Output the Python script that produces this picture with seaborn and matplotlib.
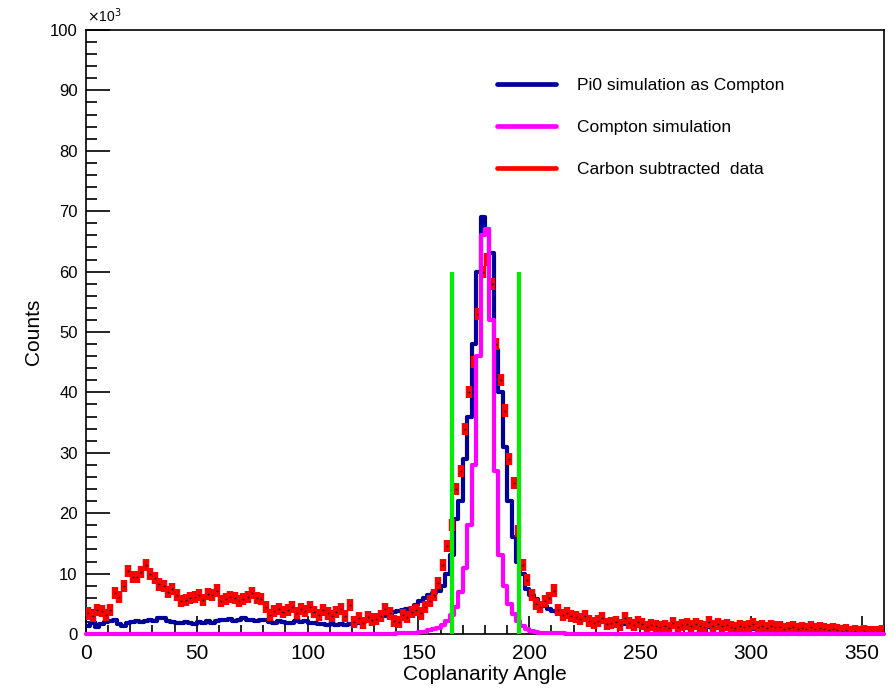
import numpy as np
import pandas as pd
import matplotlib
matplotlib.use("Agg")
import matplotlib.pyplot as plt
import seaborn as sns
from matplotlib.ticker import MultipleLocator
from matplotlib.lines import Line2D

# 2 degree bins, counts in thousands
bin_edges = list(range(0, 362, 2))
bin_centers = [e + 1 for e in bin_edges[:-1]]

pi0_sim = [
    1.4, 1.8, 1.2, 1.6, 2.0, 2.2, 2.3, 1.6, 1.4, 1.8,
    2.0, 2.1, 2.0, 2.2, 2.3, 2.2, 2.6, 2.7, 2.2, 2.0,
    1.9, 1.8, 2.0, 1.9, 1.7, 2.0, 1.9, 2.1, 1.9, 2.2,
    2.4, 2.3, 2.5, 2.2, 2.4, 2.6, 2.3, 2.4, 2.2, 2.4,
    2.3, 2.0, 1.9, 2.2, 2.0, 1.8, 1.9, 2.2, 2.0, 2.1,
    1.8, 1.9, 1.7, 1.6, 1.5, 1.6, 1.5, 1.6, 1.5, 1.6,
    1.7, 1.8, 2.0, 2.2, 2.4, 2.6, 2.9, 3.0, 3.2, 3.6,
    3.8, 3.9, 4.1, 4.3, 4.8, 5.5, 6.0, 6.4, 6.8, 7.2,
    8.0, 10.0, 13.0, 19.0, 22.0, 29.0, 36.0, 48.0, 60.0, 69.0,
    67.0, 63.0, 47.0, 40.0, 31.0, 22.0, 16.0, 12.0, 10.0, 7.5,
    6.5, 5.8, 5.0, 4.6, 4.2, 3.8, 3.6, 3.4, 3.0, 2.8,
    2.7, 2.5, 2.4, 2.3, 2.2, 2.1, 2.0, 2.0, 1.9, 1.8,
    1.8, 1.7, 1.6, 1.6, 1.5, 1.5, 1.4, 1.5, 1.3, 1.4,
    1.3, 1.3, 1.2, 1.3, 1.2, 1.2, 1.1, 1.2, 1.1, 1.1,
    1.1, 1.0, 1.1, 1.0, 1.0, 1.0, 0.9, 1.0, 0.9, 0.9,
    0.9, 0.9, 0.8, 0.9, 0.8, 0.8, 0.8, 0.7, 0.8, 0.7,
    0.7, 0.7, 0.6, 0.7, 0.6, 0.6, 0.6, 0.5, 0.6, 0.5,
    0.5, 0.5, 0.4, 0.5, 0.4, 0.4, 0.4, 0.3, 0.4, 0.3,
]

compton_sim = [
    0, 0, 0, 0, 0, 0, 0, 0, 0, 0,
    0, 0, 0, 0, 0, 0, 0, 0, 0, 0,
    0, 0, 0, 0, 0, 0, 0, 0, 0, 0,
    0, 0, 0, 0, 0, 0, 0, 0, 0, 0,
    0, 0, 0, 0, 0, 0, 0, 0, 0, 0,
    0, 0, 0, 0, 0, 0, 0, 0, 0, 0,
    0, 0, 0, 0, 0, 0, 0, 0, 0, 0,
    0.1, 0.1, 0.1, 0.2, 0.2, 0.3, 0.4, 0.6, 0.8, 1.0,
    1.5, 2.2, 3.2, 4.5, 7.0, 11.0, 18.0, 28.0, 46.0, 66.0,
    67.0, 52.0, 27.0, 13.0, 8.0, 5.0, 3.3, 2.2, 1.3, 0.8,
    0.5, 0.3, 0.2, 0.2, 0.1, 0.1, 0.1, 0.1, 0, 0,
    0, 0, 0, 0, 0, 0, 0, 0, 0, 0,
    0, 0, 0, 0, 0, 0, 0, 0, 0, 0,
    0, 0, 0, 0, 0, 0, 0, 0, 0, 0,
    0, 0, 0, 0, 0, 0, 0, 0, 0, 0,
    0, 0, 0, 0, 0, 0, 0, 0, 0, 0,
    0, 0, 0, 0, 0, 0, 0, 0, 0, 0,
    0, 0, 0, 0, 0, 0, 0, 0, 0, 0,
]

carbon_sub = [
    3.4, 3.0, 4.0, 3.8, 3.2, 4.0, 6.8, 6.2, 8.0, 10.5,
    9.5, 9.4, 10.2, 11.5, 10.0, 9.2, 8.2, 8.0, 7.0, 7.5,
    6.5, 5.4, 5.6, 6.0, 6.2, 6.4, 5.6, 6.6, 6.5, 7.2,
    5.5, 5.8, 6.2, 5.9, 5.5, 5.8, 6.2, 6.8, 6.0, 5.8,
    4.5, 3.2, 3.8, 4.2, 3.6, 4.0, 4.4, 3.5, 4.2, 3.8,
    4.4, 3.6, 3.2, 3.9, 3.4, 3.0, 3.6, 4.2, 3.0, 4.8,
    2.0, 2.6, 1.8, 2.8, 2.4, 2.5, 3.0, 4.2, 3.4, 2.2,
    2.0, 3.2, 2.8, 3.6, 4.0, 3.4, 4.5, 5.5, 6.5, 8.5,
    11.5, 14.5, 18.0, 24.0, 27.0, 34.0, 40.0, 45.0, 53.0, 60.0,
    62.0, 58.0, 48.0, 42.0, 37.0, 29.0, 25.0, 17.0, 11.5, 9.0,
    6.5, 5.0, 4.5, 5.5, 6.0, 7.2, 4.0, 3.2, 3.5, 3.0,
    2.8, 2.5, 3.0, 2.2, 1.8, 2.2, 2.6, 1.6, 1.8, 2.0,
    1.5, 2.6, 1.8, 1.5, 2.0, 1.6, 1.2, 1.5, 1.3, 1.1,
    1.4, 1.0, 1.8, 1.2, 1.5, 1.7, 1.3, 1.6, 1.4, 1.2,
    2.0, 1.4, 1.6, 1.3, 1.5, 1.2, 1.0, 1.3, 1.1, 1.4,
    1.6, 1.2, 1.4, 1.0, 1.3, 1.1, 1.2, 0.9, 1.0, 1.2,
    0.8, 1.0, 0.9, 1.1, 0.8, 1.0, 0.9, 0.7, 0.8, 0.7,
    0.5, 0.6, 0.4, 0.5, 0.4, 0.5, 0.4, 0.3, 0.4, 0.5,
]

cut_lo, cut_hi, cut_height = 165, 195.5, 60

labels = ["Pi0 simulation as Compton", "Compton simulation", "Carbon subtracted  data"]
colors = ["#000099", "#ff00ff", "#ff0000"]

df = pd.DataFrame({"angle": bin_centers, "pi0": pi0_sim,
                   "compton": compton_sim, "data": carbon_sub})

sns.set_style("white")
plt.rcParams['font.family'] = ['Liberation Sans', 'DejaVu Sans']
plt.rcParams['text.color'] = 'black'
plt.rcParams['axes.labelcolor'] = 'black'
plt.rcParams['xtick.color'] = 'black'
plt.rcParams['ytick.color'] = 'black'

fig = plt.figure(figsize=(8.95, 6.9), dpi=100)
ax = fig.add_axes([86/895, 1-634/690, (884-86)/895, (634-30)/690])

sns.histplot(data=df, x="angle", weights="pi0", bins=bin_edges, element="step", fill=False,
             color=colors[0], linewidth=3, ax=ax, zorder=3)

ax.errorbar(df["angle"], df["data"], xerr=1.0, yerr=1.0, fmt='none',
            ecolor=colors[2], elinewidth=4.6, capsize=0, zorder=4)
ax.plot(df["angle"], df["data"], 'o', color='black', markersize=1.3,
        markeredgewidth=0, zorder=5)

sns.histplot(data=df, x="angle", weights="compton", bins=bin_edges, element="step", fill=False,
             color=colors[1], linewidth=3, ax=ax, zorder=6)
for art in ax.patches + ax.lines:
    if art.get_zorder() == 6:
        art.set_clip_on(False)

ax.vlines([cut_lo, cut_hi], 0, cut_height, colors="#00ee00", linewidth=3, zorder=7)

ax.set_xlim(0, 360)
ax.set_ylim(0, 100)
ax.xaxis.set_major_locator(MultipleLocator(50))
ax.xaxis.set_minor_locator(MultipleLocator(10))
ax.yaxis.set_major_locator(MultipleLocator(10))
ax.yaxis.set_minor_locator(MultipleLocator(2))
ax.tick_params(axis='x', which='major', direction='in', length=13, width=1.2, labelsize=15, pad=7)
ax.tick_params(axis='x', which='minor', direction='in', length=6.5, width=1.2)
ax.tick_params(axis='y', which='major', direction='in', length=17, width=1.2, labelsize=12, pad=6)
ax.tick_params(axis='y', which='minor', direction='in', length=8, width=1.2)
ax.tick_params(bottom=True, left=True, top=False, right=False, which='both', color='black')
for s in ax.spines.values():
    s.set_color('black')
    s.set_linewidth(1.2)

ax.set_xlabel("Coplanarity Angle", fontsize=15, labelpad=2)
ax.set_ylabel("Counts", fontsize=15, labelpad=5)
fig.text(87/895, 1-22/690, r"$\times$10$^{3}$", fontsize=10, ha='left', va='baseline')

handles = [Line2D([], [], color=c, linewidth=3.4) for c in colors]
ax.legend(handles, labels, loc='upper left', bbox_to_anchor=(497/895, 1-78/690),
          bbox_transform=fig.transFigure, frameon=False, fontsize=12.5,
          handlelength=3.4, handletextpad=1.2, labelspacing=1.55, borderpad=0,
          borderaxespad=0)

fig.savefig("out.png", dpi=100)
